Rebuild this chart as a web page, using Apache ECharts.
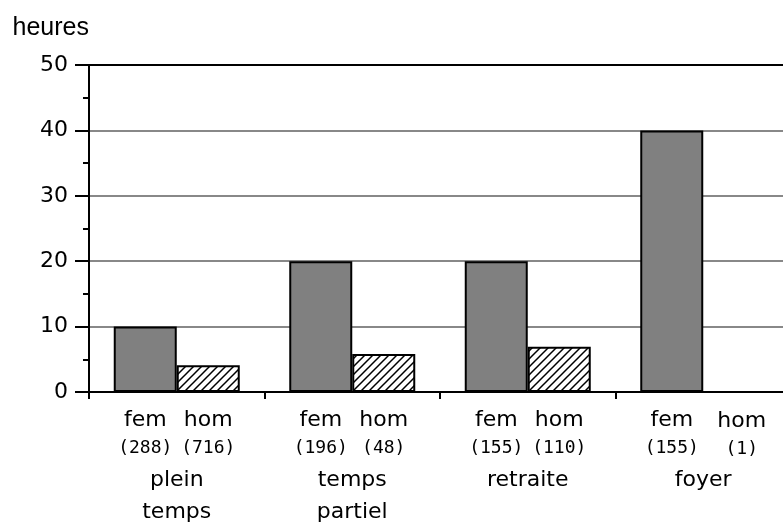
<!DOCTYPE html>
<html>
<head>
<meta charset="utf-8">
<script src="https://cdn.jsdelivr.net/npm/echarts@6/dist/echarts.min.js"></script>
<style>html,body{margin:0;padding:0;background:#fff;overflow:hidden}#c{width:783px;height:522px}</style>
</head>
<body>
<div id="c"></div>
<script>
// Data
var groups = ['plein\ntemps', 'temps\npartiel', 'retraite', 'foyer'];
var femValues = [10, 20, 20, 40];
var homValues = [4.1, 5.8, 6.9, 0];
var femCounts = [288, 196, 155, 155];
var homCounts = [716, 48, 110, 1];
var yTicks = [0, 10, 20, 30, 40, 50];

// hatch pattern
var pc = document.createElement('canvas');
pc.width = 8; pc.height = 8;
var g = pc.getContext('2d');
g.fillStyle = '#fff'; g.fillRect(0, 0, 8, 8);
g.strokeStyle = '#000'; g.lineWidth = 1.5;
g.beginPath();
g.moveTo(0, 8); g.lineTo(8, 0);
g.moveTo(-2, 2); g.lineTo(2, -2);
g.moveTo(6, 10); g.lineTo(10, 6);
g.stroke();

var chart = echarts.init(document.getElementById('c'));
var F = 'DejaVu Sans';
function lab(name, counts) {
  return {
    show: true, position: 'bottom', distance: 12,
    formatter: function (p) { return '{a|' + name + '}\n{b|(' + counts[p.dataIndex] + ')}'; },
    rich: {
      a: { fontFamily: F, fontSize: 22, color: '#000', lineHeight: 32 },
      b: { fontFamily: 'DejaVu Sans Mono', fontSize: 18, color: '#000', lineHeight: 24 }
    }
  };
}
var homData = homValues.map(function (v, i) {
  return i === homValues.length - 1 ? { value: v, label: { offset: [7, 0] } } : v;
});
chart.setOption({
  animation: false,
  grid: { left: 89, top: 65, width: 702, height: 327, containLabel: false, outerBoundsMode: 'none' },
  xAxis: [{
    type: 'category', data: groups, position: 'bottom',
    axisLine: { lineStyle: { color: '#000', width: 2 } },
    axisTick: { show: true, length: 7, lineStyle: { color: '#000', width: 2 } },
    axisLabel: { margin: 72, fontFamily: F, fontSize: 22, color: '#000', lineHeight: 32 }
  }, {
    type: 'category', data: groups, position: 'top',
    axisLine: { lineStyle: { color: '#000', width: 2 } },
    axisTick: { show: false }, axisLabel: { show: false }
  }],
  yAxis: {
    type: 'value', min: yTicks[0], max: yTicks[yTicks.length - 1], interval: 10,
    name: 'heures', nameLocation: 'end', nameGap: 24,
    nameTextStyle: { fontFamily: 'Liberation Sans', fontSize: 25, color: '#000', align: 'right' },
    axisLine: { show: true, lineStyle: { color: '#000', width: 2 } },
    axisTick: { show: true, length: 14, lineStyle: { color: '#000', width: 2 } },
    minorTick: { show: true, splitNumber: 2, length: 6, lineStyle: { color: '#000', width: 2 } },
    axisLabel: { margin: 21, fontFamily: F, fontSize: 22, color: '#000' },
    splitLine: { lineStyle: { color: '#888', width: 2 } }
  },
  series: [{
    type: 'bar', data: femValues, barWidth: 63, barGap: '0%',
    itemStyle: { color: '#808080', borderColor: '#000', borderWidth: 2 },
    label: lab('fem', femCounts)
  }, {
    type: 'bar', data: homData, barWidth: 63,
    itemStyle: { color: { image: pc, repeat: 'repeat' }, borderColor: '#000', borderWidth: 2 },
    label: lab('hom', homCounts)
  }]
});
</script>
</body>
</html>
